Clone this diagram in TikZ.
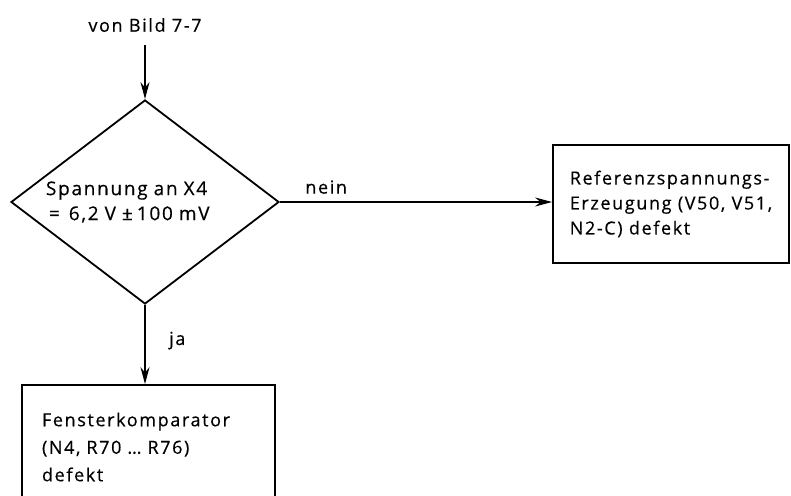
\documentclass[tikz,border=0pt]{standalone}
\usepackage{fontspec}
\setmainfont{Open Sans}[LetterSpace=9, FakeBold=0.4]
\usetikzlibrary{positioning,arrows.meta,shapes.geometric}

\begin{document}
\begin{tikzpicture}[
x=1pt, y=-1pt,
font=\fontsize{18}{25}\selectfont,
lbl/.style={inner sep=2pt},
test/.style={draw, line width=1.8pt, diamond, aspect=1.314, inner sep=0pt, minimum width=268pt, minimum height=204pt, text width=198pt, align=left},
box/.style={draw, line width=1.8pt, rectangle, inner xsep=13pt, align=left},
arrow/.style={-{Stealth[length=17pt, width=9pt]}, line width=1.8pt}
]
\useasboundingbox (0,0) rectangle (791,495);
\node[lbl] (src) at (145,25) {von Bild 7-7};
\node[test] (test) at (145,202) {\fontsize{19}{25}\selectfont Spannung an X4\\ \hspace{3pt}=\hspace{9pt}6,2 V ±\hspace{4pt}100 mV};
\node[box, minimum width=236pt, minimum height=118pt] (ref) at (671,204)
  {Referenzspannungs-\\Erzeugung (V50, V51,\\N2-C) defekt};
\node[box, minimum width=253pt, minimum height=124pt, text width=213pt, inner xsep=20pt,
  font=\fontsize{18}{27.5}\selectfont] (komp) at (148.5,447)
  {Fensterkomparator\\(N4, R70 \dots\ R76)\\defekt};
\draw[arrow, shorten <=11pt] (src.south) -- (test.north);
\draw[arrow] (test.east) -- node[pos=0.17, above=4pt] {nein} (test.east -| ref.west);
\draw[arrow] (test.south) -- node[pos=0.45, right=20pt] {ja} (test.south |- komp.north);
\end{tikzpicture}
\end{document}
